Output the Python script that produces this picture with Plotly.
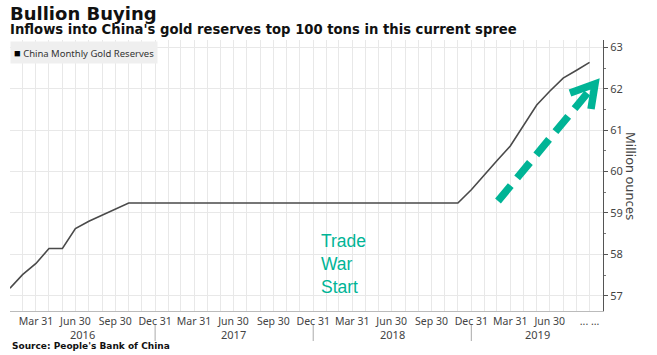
import plotly.graph_objects as go
import pandas as pd

# ---------------- data ----------------
months = pd.date_range("2016-01-31", "2019-09-30", freq="ME")
reserves_2016 = [57.18, 57.51, 57.78, 58.14, 58.14, 58.62, 58.80, 58.95, 59.10, 59.24, 59.24, 59.24]
reserves_2017 = [59.24] * 12
reserves_2018 = [59.24] * 11 + [59.56]
reserves_2019 = [59.94, 60.26, 60.62, 61.10, 61.61, 61.94, 62.26, 62.45, 62.64]
reserves = reserves_2016 + reserves_2017 + reserves_2018 + reserves_2019

quarter_ends = pd.date_range("2016-03-31", "2019-09-30", freq="QE")
quarter_labels = [d.strftime("%b ") + str(d.day) for d in quarter_ends]
quarter_labels[-1] = "... ..."

years = ["2016", "2017", "2018", "2019"]
year_centers = ["2016-07-16", "2017-07-01", "2018-07-01", "2019-06-01"]
year_breaks = ["2016-12-31", "2017-12-31", "2018-12-31"]

series_name = "China Monthly Gold Reserves"
title = "Bullion Buying"
subtitle = "Inflows into China's gold reserves top 100 tons in this current spree"
source = "Source: People's Bank of China"
y_title = "Million ounces"
note = "Trade<br>War<br>Start"

# ---------------- layout helpers ----------------
W, H = 657, 355
L, R, T, B = 10, 54, 40, 44
PW, PH = W - L - R, H - T - B


def px(xp):
    return (xp - L) / PW


def py(yp):
    return (H - B - yp) / PH


TEAL = "#00b496"
GRID = "#e8e8e8"
TXT = "#444444"

# tick values: all month ends (gridlines), labels only at quarter ends
tick_vals = list(months) + [pd.Timestamp("2019-10-31")]
qset = {d: lab for d, lab in zip(quarter_ends, quarter_labels)}
tick_text = [qset.get(d, "") for d in tick_vals]

fig = go.Figure()
fig.add_trace(go.Scatter(
    x=months, y=reserves, mode="lines", name=series_name,
    line=dict(color="#4a4a4a", width=1.6), showlegend=False,
))

fig.update_layout(
    width=W, height=H,
    margin=dict(l=L, r=R, t=T, b=B),
    paper_bgcolor="white", plot_bgcolor="white",
    showlegend=False,
    xaxis=dict(
        type="date",
        range=["2016-01-31", "2019-10-31"],
        tickmode="array", tickvals=tick_vals, ticktext=tick_text,
        ticks="", showgrid=True, gridcolor=GRID, gridwidth=1,
        showline=True, linecolor="#bbbbbb", linewidth=1,
        tickfont=dict(family="Noto Sans", size=10.5, color=TXT),
        zeroline=False,
    ),
    yaxis=dict(
        side="right", range=[56.63, 63.18],
        tickmode="linear", tick0=57, dtick=1,
        ticks="outside", ticklen=4, tickcolor="#555555",
        showline=True, linecolor="#555555", linewidth=1,
        showgrid=True, gridcolor=GRID, gridwidth=1,
        tickfont=dict(family="Noto Sans", size=11, color=TXT),
        minor=dict(dtick=0.5, tick0=56.5, ticks="outside", ticklen=2,
                   tickcolor="#777777", showgrid=False),
        zeroline=False,
    ),
)

ann = []
# titles
ann.append(dict(text=f"<b>{title}</b>", xref="paper", yref="paper",
                x=px(8), y=py(1), xanchor="left", yanchor="top", showarrow=False,
                font=dict(family="DejaVu Sans", size=18, color="#111111")))
ann.append(dict(text=f"<b>{subtitle}</b>", xref="paper", yref="paper",
                x=px(8), y=py(20), xanchor="left", yanchor="top", showarrow=False,
                font=dict(family="DejaVu Sans", size=13.2, color="#111111")))
ann.append(dict(text=f"<b>{source}</b>", xref="paper", yref="paper",
                x=px(10), y=py(339), xanchor="left", yanchor="top", showarrow=False,
                font=dict(family="DejaVu Sans", size=9, color="#111111")))
# legend box
ann.append(dict(text=f"<span style='font-size:11px;color:#000'>■</span> {series_name}",
                xref="paper", yref="paper",
                x=0, y=py(41), xanchor="left", yanchor="top", showarrow=False,
                bgcolor="#efefef", borderpad=3,
                font=dict(family="Noto Sans", size=9.5, color="#333333")))
# year labels
for yr, c in zip(years, year_centers):
    ann.append(dict(text=yr, xref="x", yref="paper", x=c, y=py(325),
                    xanchor="center", yanchor="top", showarrow=False,
                    font=dict(family="Noto Sans", size=11, color=TXT)))
# axis title
ann.append(dict(text=y_title, xref="paper", yref="paper", x=px(631), y=py(176),
                xanchor="center", yanchor="middle", textangle=90, showarrow=False,
                font=dict(family="Noto Sans", size=13, color=TXT)))
# trade war note
ann.append(dict(text=note, xref="paper", yref="paper", x=px(319), y=py(229),
                xanchor="left", yanchor="top", align="left", showarrow=False,
                font=dict(family="Liberation Sans", size=17.5, color=TEAL)))
fig.update_layout(annotations=ann)

shapes = []
for b in year_breaks:
    shapes.append(dict(type="line", xref="x", yref="paper", x0=b, x1=b,
                       y0=py(325), y1=py(341), line=dict(color="#aaaaaa", width=1)))
# dashed arrow
shapes.append(dict(type="line", xref="paper", yref="paper",
                   x0=px(498), y0=py(201), x1=px(590), y1=py(90),
                   line=dict(color=TEAL, width=7.5, dash="20px,10px")))
shapes.append(dict(type="path", xref="paper", yref="paper",
                   path=f"M {px(570)},{py(93)} L {px(595)},{py(84)} L {px(591)},{py(109)}",
                   line=dict(color=TEAL, width=7.5)))
fig.update_layout(shapes=shapes)

fig.write_html(
    "out.html",
    config={"displayModeBar": False},
    post_script="document.body.style.margin='0';document.body.style.overflow='hidden';",
)
